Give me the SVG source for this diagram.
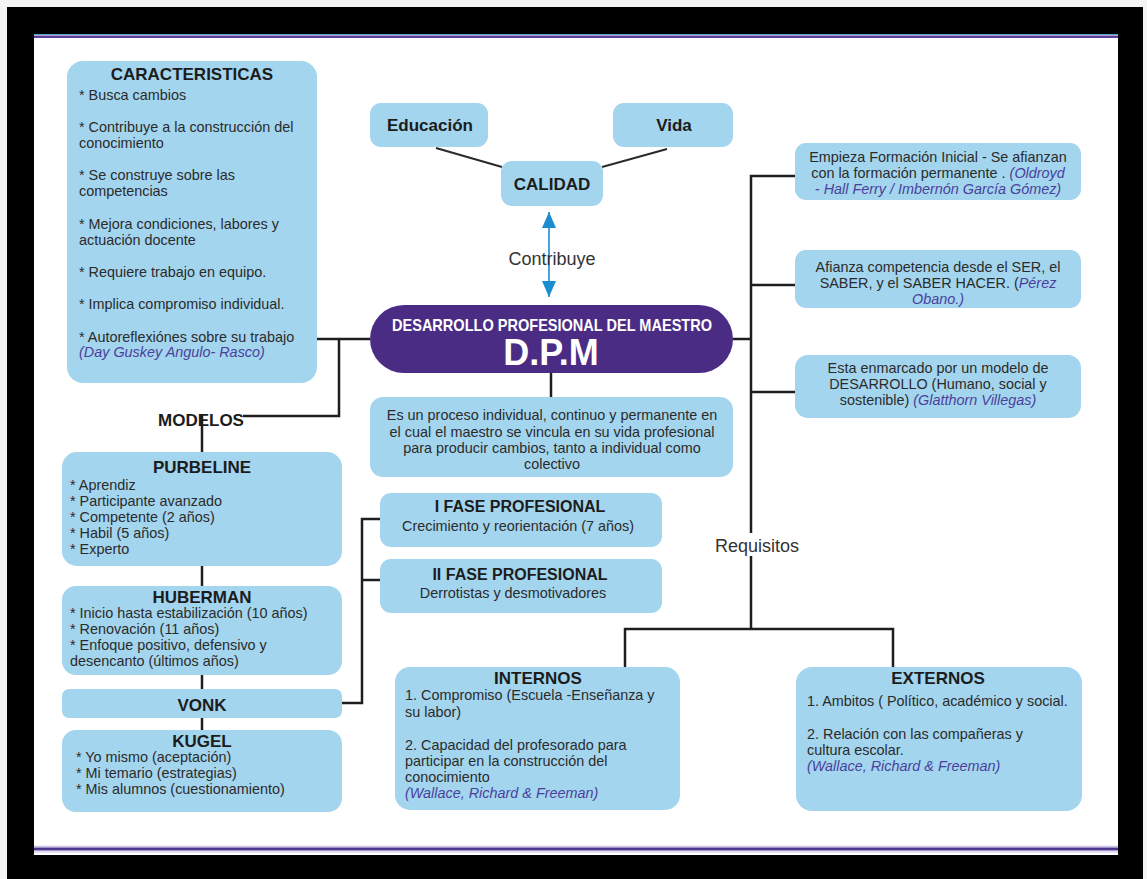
<svg xmlns="http://www.w3.org/2000/svg" width="1147" height="879" viewBox="0 0 1147 879">
  <defs>
    <style>
      .box { fill: #a3d5ee; }
      .t { font-family: "Liberation Sans", Arial, sans-serif; font-size: 14.4px; fill: #2b2b2b; }
      .h { font-family: "Liberation Sans", Arial, sans-serif; font-size: 17px; font-weight: bold; fill: #1c1c1c; }
      .h16 { font-size: 16px; }
      .ref { font-style: italic; fill: #4b3f9c; }
      .mid { text-anchor: middle; }
      .lbl { font-family: "Liberation Sans", Arial, sans-serif; font-size: 18px; fill: #333333; text-anchor: middle; }
      .wire { fill: none; stroke: #1e1e1e; stroke-width: 2.5; }
      .thin { fill: none; stroke: #2a2a2a; stroke-width: 2; }
      .dpm { fill: #4b2c85; }
      .white { fill: #ffffff; font-family: "Liberation Sans", Arial, sans-serif; font-weight: bold; text-anchor: middle; }
    </style>
    <marker id="tri" viewBox="0 0 16 14" refX="16" refY="7" markerWidth="16" markerHeight="14" orient="auto-start-reverse" markerUnits="userSpaceOnUse">
      <path d="M0,0 L16,7 L0,14 z" fill="#1b8ccf"/>
    </marker>
  </defs>

  <!-- page frame -->
  <rect x="0" y="0" width="1147" height="879" fill="#f4f4f4"/>
  <rect x="7" y="7" width="1136" height="872" fill="#000000"/>
  <rect x="34" y="34" width="1084" height="821" fill="#ffffff"/>
  <line x1="34" y1="34.5" x2="1118" y2="34.5" stroke="#5aa8cf" stroke-width="1.2"/>
  <line x1="34" y1="36.8" x2="1118" y2="36.8" stroke="#5b3f98" stroke-width="2.5"/>
  <line x1="34" y1="846.5" x2="1118" y2="846.5" stroke="#cfc4e6" stroke-width="1.5"/>
  <line x1="34" y1="849" x2="1118" y2="849" stroke="#4b3790" stroke-width="3"/>
  <line x1="34" y1="851.8" x2="1118" y2="851.8" stroke="#d6cdea" stroke-width="1.2"/>

  <!-- connectors -->
  <g id="connectors">
    <line class="thin" x1="436" y1="148" x2="502" y2="167"/>
    <line class="thin" x1="667" y1="149" x2="602" y2="167"/>
    <line x1="549" y1="212" x2="549" y2="297" stroke="#1b8ccf" stroke-width="1.6" marker-start="url(#tri)" marker-end="url(#tri)"/>
    <line class="wire" x1="551" y1="373" x2="551" y2="397"/>
    <!-- left branch -->
    <line class="wire" x1="317" y1="339" x2="370" y2="339"/>
    <polyline class="wire" points="339,339 339,416 243,416"/>
    <line class="wire" x1="202" y1="414" x2="202" y2="452"/>
    <line class="wire" x1="202" y1="566" x2="202" y2="586"/>
    <line class="wire" x1="202" y1="675" x2="202" y2="689"/>
    <line class="wire" x1="202" y1="718" x2="202" y2="730"/>
    <polyline class="wire" points="342,703 362,703 362,519 380,519"/>
    <line class="wire" x1="362" y1="580" x2="380" y2="580"/>
    <!-- right branch -->
    <line class="wire" x1="733" y1="339" x2="751" y2="339"/>
    <polyline class="wire" points="795,176 751,176 751,533"/>
    <line class="wire" x1="751" y1="285" x2="795" y2="285"/>
    <line class="wire" x1="751" y1="392" x2="795" y2="392"/>
    <line class="wire" x1="751" y1="556" x2="751" y2="629"/>
    <polyline class="wire" points="625,667 625,629 893,629 893,667"/>
  </g>

  <!-- connector labels -->
  <text class="lbl" x="552" y="265">Contribuye</text>
  <text class="lbl" x="757" y="552">Requisitos</text>

  <g id="caracteristicas">
    <rect class="box" x="67" y="61" width="250" height="322" rx="16"/>
    <text class="h mid" x="192" y="80">CARACTERISTICAS</text>
    <text class="t" x="79" y="100">* Busca cambios</text>
    <text class="t" x="79" y="132">* Contribuye a la construcción del</text>
    <text class="t" x="79" y="148">conocimiento</text>
    <text class="t" x="79" y="180">* Se construye sobre las</text>
    <text class="t" x="79" y="196">competencias</text>
    <text class="t" x="79" y="229">* Mejora condiciones, labores y</text>
    <text class="t" x="79" y="245">actuación docente</text>
    <text class="t" x="79" y="277">* Requiere trabajo en equipo.</text>
    <text class="t" x="79" y="309">* Implica compromiso individual.</text>
    <text class="t" x="79" y="342">* Autoreflexiónes sobre su trabajo</text>
    <text class="t ref" x="79" y="357">(Day Guskey Angulo- Rasco)</text>
  </g>

  <g id="educacion">
    <rect class="box" x="370" y="103" width="118" height="44" rx="11"/>
    <text class="h mid" x="430" y="131">Educación</text>
  </g>

  <g id="vida">
    <rect class="box" x="613" y="103" width="120" height="44" rx="11"/>
    <text class="h mid" x="674" y="131">Vida</text>
  </g>

  <g id="calidad">
    <rect class="box" x="501" y="161" width="102" height="45" rx="11"/>
    <text class="h mid" x="552" y="190">CALIDAD</text>
  </g>

  <g id="dpm">
    <rect class="dpm" x="370" y="305" width="363" height="68" rx="34"/>
    <text class="white" x="552" y="331" font-size="17" textLength="320" lengthAdjust="spacingAndGlyphs">DESARROLLO PROFESIONAL DEL MAESTRO</text>
    <text class="white" x="551" y="365" font-size="36">D.P.M</text>
  </g>

  <g id="definicion">
    <rect class="box" x="370" y="397" width="363" height="80" rx="13"/>
    <text class="t mid" x="552" y="420">Es un proceso individual, continuo y permanente en</text>
    <text class="t mid" x="552" y="437">el cual el maestro se vincula en su vida profesional</text>
    <text class="t mid" x="552" y="453">para producir cambios, tanto a individual como</text>
    <text class="t mid" x="552" y="469">colectivo</text>
  </g>

  <g id="formacion">
    <rect class="box" x="795" y="143" width="286" height="57" rx="11"/>
    <text class="t mid" x="938" y="162">Empieza Formación Inicial - Se afianzan</text>
    <text class="t mid" x="938" y="178">con la formación permanente . <tspan class="ref">(Oldroyd</tspan></text>
    <text class="t mid ref" x="938" y="194">- Hall Ferry / Imbernón García Gómez)</text>
  </g>

  <g id="competencia">
    <rect class="box" x="795" y="250" width="286" height="58" rx="11"/>
    <text class="t mid" x="938" y="272">Afianza competencia desde el SER, el</text>
    <text class="t mid" x="938" y="288">SABER, y el SABER HACER. (<tspan class="ref">Pérez</tspan></text>
    <text class="t mid ref" x="938" y="304">Obano.)</text>
  </g>

  <g id="modelo-desarrollo">
    <rect class="box" x="795" y="355" width="286" height="63" rx="13"/>
    <text class="t mid" x="938" y="373">Esta enmarcado por un modelo de</text>
    <text class="t mid" x="938" y="389">DESARROLLO (Humano, social y</text>
    <text class="t mid" x="938" y="405">sostenible) <tspan class="ref">(Glatthorn Villegas)</tspan></text>
  </g>

  <g id="modelos">
    <text class="h mid" x="201" y="426" font-size="16">MODELOS</text>
  </g>

  <g id="purbeline">
    <rect class="box" x="62" y="452" width="280" height="114" rx="15"/>
    <text class="h mid" x="202" y="473">PURBELINE</text>
    <text class="t" x="70" y="490">* Aprendiz</text>
    <text class="t" x="70" y="506">* Participante avanzado</text>
    <text class="t" x="70" y="522">* Competente (2 años)</text>
    <text class="t" x="70" y="538">* Habil (5 años)</text>
    <text class="t" x="70" y="554">* Experto</text>
  </g>

  <g id="huberman">
    <rect class="box" x="62" y="586" width="280" height="89" rx="14"/>
    <text class="h mid" x="202" y="603">HUBERMAN</text>
    <text class="t" x="70" y="618">* Inicio hasta estabilización (10 años)</text>
    <text class="t" x="70" y="634">* Renovación (11 años)</text>
    <text class="t" x="70" y="650">* Enfoque positivo, defensivo y</text>
    <text class="t" x="70" y="666">desencanto (últimos años)</text>
  </g>

  <g id="vonk">
    <rect class="box" x="62" y="689" width="280" height="29" rx="7"/>
    <text class="h mid" x="202" y="711">VONK</text>
  </g>

  <g id="kugel">
    <rect class="box" x="62" y="730" width="280" height="82" rx="14"/>
    <text class="h mid" x="202" y="747">KUGEL</text>
    <text class="t" x="76" y="762">* Yo mismo (aceptación)</text>
    <text class="t" x="76" y="778">* Mi temario (estrategias)</text>
    <text class="t" x="76" y="794">* Mis alumnos (cuestionamiento)</text>
  </g>

  <g id="fase1">
    <rect class="box" x="380" y="493" width="282" height="54" rx="11"/>
    <text class="h h16 mid" x="520" y="512">I FASE PROFESIONAL</text>
    <text class="t mid" x="518" y="531">Crecimiento y reorientación (7 años)</text>
  </g>

  <g id="fase2">
    <rect class="box" x="380" y="559" width="282" height="54" rx="11"/>
    <text class="h h16 mid" x="520" y="580">II FASE PROFESIONAL</text>
    <text class="t mid" x="513" y="598">Derrotistas y desmotivadores</text>
  </g>

  <g id="internos">
    <rect class="box" x="395" y="667" width="285" height="143" rx="15"/>
    <text class="h mid" x="538" y="684">INTERNOS</text>
    <text class="t" x="405" y="700">1. Compromiso (Escuela -Enseñanza y</text>
    <text class="t" x="405" y="717">su labor)</text>
    <text class="t" x="405" y="750">2. Capacidad del profesorado para</text>
    <text class="t" x="405" y="766">participar en la construcción del</text>
    <text class="t" x="405" y="782">conocimiento</text>
    <text class="t ref" x="405" y="798">(Wallace, Richard &amp; Freeman)</text>
  </g>

  <g id="externos">
    <rect class="box" x="796" y="667" width="286" height="144" rx="16"/>
    <text class="h mid" x="938" y="684">EXTERNOS</text>
    <text class="t" x="807" y="706">1. Ambitos ( Político, académico y social.</text>
    <text class="t" x="807" y="739">2. Relación con las compañeras y</text>
    <text class="t" x="807" y="755">cultura escolar.</text>
    <text class="t ref" x="807" y="771">(Wallace, Richard &amp; Freeman)</text>
  </g>
</svg>
